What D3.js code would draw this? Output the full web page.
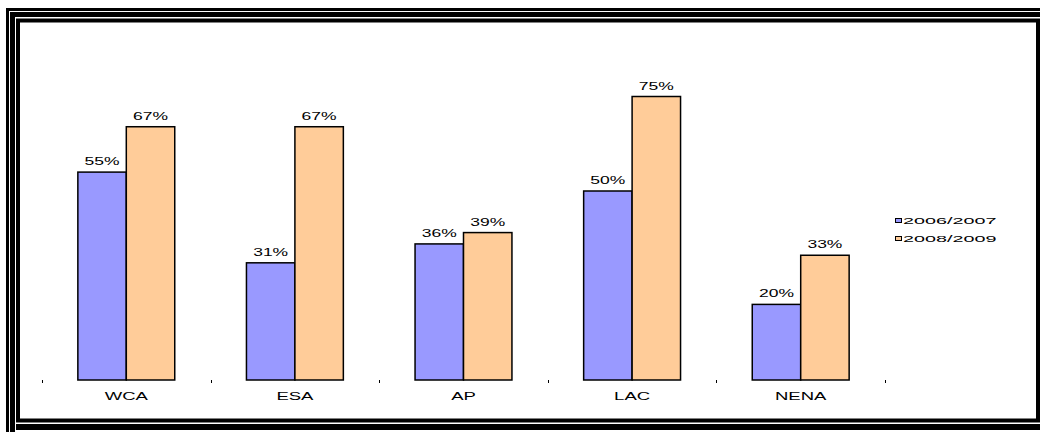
<!DOCTYPE html>
<html>
<head>
<meta charset="utf-8">
<script src="https://cdn.jsdelivr.net/npm/d3@7"></script>
<style>
  body { margin: 0; background: #fff; }
  svg { display: block; }
  text { font-family: "Liberation Sans", Arial, sans-serif; fill: #000; }
</style>
</head>
<body>
<svg id="chart" width="1040" height="432"></svg>
<script>
const regions = ['WCA', 'ESA', 'AP', 'LAC', 'NENA'];
const seriesNames = ['2006/2007', '2008/2009'];
const values2006 = [55, 31, 36, 50, 20];
const values2008 = [67, 67, 39, 75, 33];
const seriesColors = ['#9999FF', '#FFCC99'];

const data = regions.map((r, i) => ({region: r, vals: [values2006[i], values2008[i]]}));

const svg = d3.select('#chart');

// frame: several black lines, outer ones run off the picture
svg.append('rect')
  .attr('x', 7.5).attr('y', 9.5)
  .attr('width', 1100).attr('height', 1100)
  .attr('fill', 'none').attr('stroke', '#000').attr('stroke-width', 3);

svg.append('rect')
  .attr('x', 12.5).attr('y', 14.5)
  .attr('width', 1100).attr('height', 1100)
  .attr('fill', 'none').attr('stroke', '#000').attr('stroke-width', 5);

svg.append('line')
  .attr('x1', 16).attr('x2', 1100)
  .attr('y1', 427).attr('y2', 427)
  .attr('stroke', '#000').attr('stroke-width', 6);

svg.append('rect')
  .attr('x', 18).attr('y', 20.5)
  .attr('width', 1020).attr('height', 400)
  .attr('fill', '#fff').attr('stroke', '#000').attr('stroke-width', 4);

const baseY = 380;

const x0 = d3.scaleBand()
  .domain(regions)
  .range([42, 885]);

const x1 = d3.scaleBand()
  .domain(seriesNames)
  .range([0, x0.bandwidth()])
  .paddingOuter(0.74);

const y = d3.scaleLinear()
  .domain([0, 100])
  .range([baseY, 2]);

const g = svg.append('g');

// axis ticks only, no line
const xAxis = d3.axisBottom(x0)
  .tickSize(0)
  .tickPadding(12)
  .tickFormat('');

const xAxisG = g.append('g')
  .attr('transform', `translate(0,${baseY})`)
  .call(xAxis);
xAxisG.select('.domain').remove();

const boundaries = regions.map(r => x0(r)).concat([x0.range()[1]]);
xAxisG.selectAll('.bound')
  .data(boundaries)
  .enter().append('line')
  .attr('class', 'bound')
  .attr('x1', d => Math.round(d) + 0.5)
  .attr('x2', d => Math.round(d) + 0.5)
  .attr('y1', 0).attr('y2', 3)
  .attr('stroke', '#000');

// category labels (stretched wide like the original)
g.selectAll('.cat')
  .data(regions)
  .enter().append('text')
  .attr('class', 'cat')
  .attr('text-anchor', 'middle')
  .attr('font-size', 10)
  .attr('transform', d => `translate(${x0(d) + x0.bandwidth() / 2},${baseY + 20}) scale(1.85,1)`)
  .text(d => d);

const groups = g.selectAll('.grp')
  .data(data)
  .enter().append('g')
  .attr('class', 'grp')
  .attr('transform', d => `translate(${x0(d.region)},0)`);

const bars = groups.selectAll('rect')
  .data(d => d.vals.map((v, i) => ({series: seriesNames[i], v, i})))
  .enter();

bars.append('rect')
  .attr('x', d => x1(d.series))
  .attr('y', d => y(d.v))
  .attr('width', x1.bandwidth())
  .attr('height', d => baseY - y(d.v))
  .attr('fill', d => seriesColors[d.i])
  .attr('stroke', '#000')
  .attr('stroke-width', 1.5);

bars.append('text')
  .attr('text-anchor', 'middle')
  .attr('font-size', 10)
  .attr('transform', d => `translate(${x1(d.series) + x1.bandwidth() / 2},${y(d.v) - 7}) scale(1.75,1)`)
  .text(d => d.v + '%');

// legend
const legend = svg.append('g')
  .attr('transform', 'translate(895,216)');

const item = legend.selectAll('.item')
  .data(seriesNames)
  .enter().append('g')
  .attr('class', 'item')
  .attr('transform', (d, i) => `translate(0,${i * 18})`);

item.append('rect')
  .attr('x', 0.5).attr('y', 2.5)
  .attr('width', 6).attr('height', 4)
  .attr('fill', (d, i) => seriesColors[i])
  .attr('stroke', '#000')
  .attr('stroke-width', 1);

item.append('text')
  .attr('font-size', 9)
  .attr('transform', 'translate(8,7.5) scale(2.2,1)')
  .text(d => d);
</script>
</body>
</html>
